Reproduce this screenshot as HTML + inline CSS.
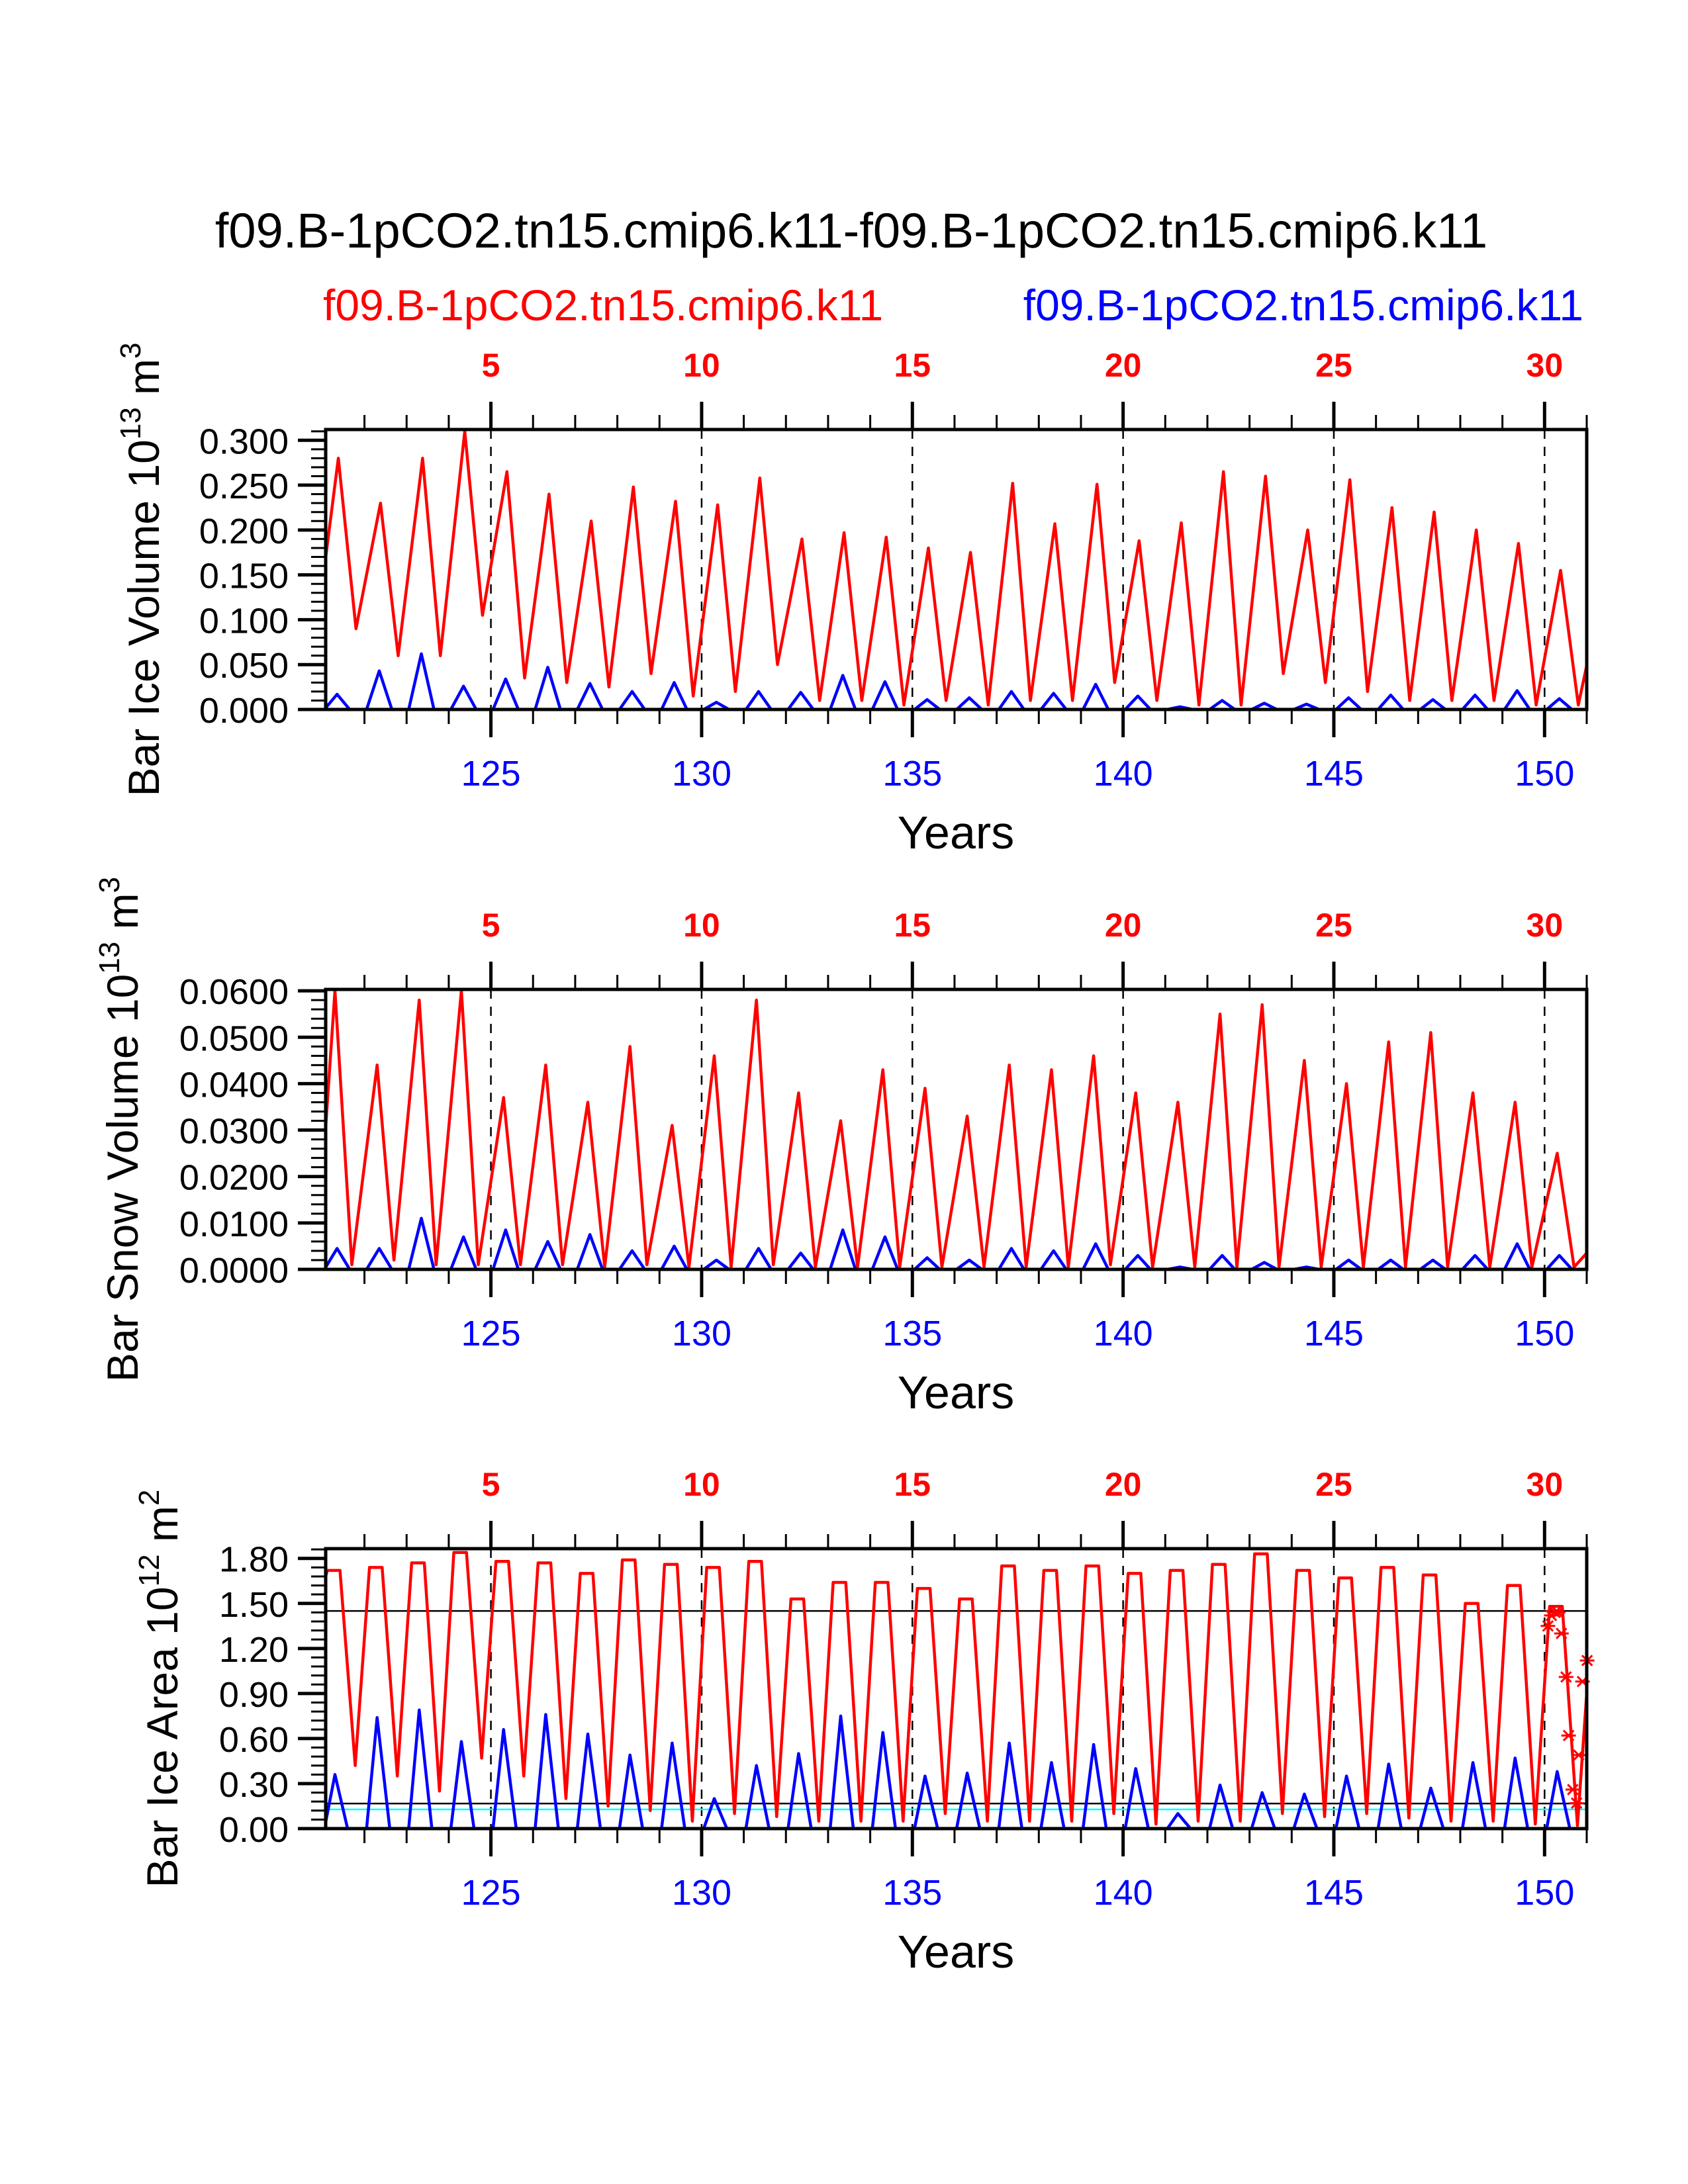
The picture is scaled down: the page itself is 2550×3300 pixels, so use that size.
<!DOCTYPE html>
<html><head><meta charset="utf-8"><style>
html,body{margin:0;padding:0;background:#fff;}
svg{display:block;font-family:"Liberation Sans",sans-serif;}
</style></head>
<body>
<svg id="chart" width="2550" height="3300" viewBox="0 0 2550 3300" xmlns="http://www.w3.org/2000/svg">
<rect width="2550" height="3300" fill="#fff"/>
<text x="1286" y="374" font-size="74" text-anchor="middle">f09.B-1pCO2.tn15.cmip6.k11-f09.B-1pCO2.tn15.cmip6.k11</text>
<text x="488" y="484" font-size="66" fill="#ff0000">f09.B-1pCO2.tn15.cmip6.k11</text>
<text x="2392" y="484" font-size="66" fill="#0000ff" text-anchor="end">f09.B-1pCO2.tn15.cmip6.k11</text>
<g id="panels"></g>
</svg>
<script>
// ---- data ----
const years = [121,122,123,124,125,126,127,128,129,130,131,132,133,134,135,136,137,138,139,140,141,142,143,144,145,146,147,148,149,150];
const topTickLabels = ["5","10","15","20","25","30"];
const bottomTickLabels = ["125","130","135","140","145","150"];

const volRedPeak = [0.28,0.23,0.28,0.31,0.265,0.24,0.21,0.248,0.232,0.228,0.258,0.19,0.197,0.192,0.18,0.175,0.252,0.207,0.251,0.188,0.208,0.265,0.26,0.20,0.256,0.225,0.22,0.20,0.185,0.155];
const volRedTrough = [0.09,0.06,0.06,0.105,0.035,0.03,0.025,0.04,0.015,0.02,0.05,0.01,0.01,0.005,0.01,0.005,0.01,0.01,0.03,0.01,0.005,0.005,0.04,0.03,0.02,0.01,0.01,0.01,0.005,0.005];
const volBluePeak = [0.017,0.043,0.062,0.026,0.034,0.047,0.029,0.02,0.03,0.008,0.02,0.019,0.038,0.031,0.011,0.013,0.02,0.018,0.028,0.015,0.003,0.01,0.007,0.006,0.013,0.016,0.011,0.016,0.021,0.012];

const snowRedPeak = [0.060,0.044,0.058,0.060,0.037,0.044,0.036,0.048,0.031,0.046,0.058,0.038,0.032,0.043,0.039,0.033,0.044,0.043,0.046,0.038,0.036,0.055,0.057,0.045,0.040,0.049,0.051,0.038,0.036,0.025];
const snowRedTrough = [0.001,0.002,0.001,0.001,0.001,0.001,0.0005,0.001,0.0005,0.0005,0.001,0.0005,0.0005,0.0005,0.0005,0.0005,0.0005,0.0005,0.001,0.0005,0.0005,0.0005,0.0005,0.0005,0.0005,0.0005,0.0005,0.0005,0.0005,0.0005];
const snowBluePeak = [0.0045,0.0045,0.011,0.007,0.0085,0.006,0.0075,0.004,0.005,0.002,0.0045,0.0035,0.0085,0.007,0.0025,0.002,0.0045,0.004,0.0055,0.003,0.0005,0.003,0.0015,0.0005,0.002,0.002,0.002,0.003,0.0055,0.003];

const areaRedPeak = [1.72,1.74,1.77,1.84,1.78,1.77,1.70,1.79,1.76,1.74,1.78,1.53,1.64,1.64,1.60,1.53,1.75,1.72,1.75,1.70,1.72,1.76,1.83,1.72,1.67,1.74,1.69,1.50,1.62,1.48];
const areaRedTrough = [0.42,0.35,0.25,0.47,0.35,0.2,0.15,0.12,0.05,0.1,0.08,0.05,0.05,0.05,0.1,0.05,0.05,0.05,0.1,0.03,0.05,0.05,0.1,0.08,0.1,0.07,0.05,0.05,0.03,0.02];
const areaBluePeak = [0.36,0.74,0.79,0.58,0.66,0.76,0.63,0.49,0.57,0.2,0.42,0.5,0.75,0.64,0.35,0.37,0.57,0.44,0.56,0.4,0.1,0.29,0.24,0.23,0.35,0.43,0.27,0.44,0.47,0.38];
const areaRefLines = [1.45,0.167];
const areaCyanLine = [0.128];
const starYears = [150.08,150.16,150.25,150.32,150.40,150.51,150.57,150.81,150.67,150.76,150.90,151.01];
const starValues = [1.35,1.42,1.44,1.44,1.30,1.01,0.62,0.49,0.26,0.17,0.98,1.12];

const volTicks = ["0.000","0.050","0.100","0.150","0.200","0.250","0.300"];
const snowTicks = ["0.0000","0.0100","0.0200","0.0300","0.0400","0.0500","0.0600"];
const areaTicks = ["0.00","0.30","0.60","0.90","1.20","1.50","1.80"];

// ---- layout ----
const NS = "http://www.w3.org/2000/svg";
const X0 = 492, X1 = 2397, XMIN = 121.08, XMAX = 151.0, PH = 423;
const xs = v => X0 + (v - XMIN) / (XMAX - XMIN) * (X1 - X0);
const root = document.getElementById('panels');
function mk(tag, attrs, parent) {
  const e = document.createElementNS(NS, tag);
  for (const k in attrs) e.setAttribute(k, attrs[k]);
  (parent || root).appendChild(e);
  return e;
}
function pathD(pts){return pts.map((p,i)=>(i?'L':'M')+p[0].toFixed(1)+' '+p[1].toFixed(1)).join(' ');}

function panel(cfg) {
  const top = cfg.top, bot = top + PH;
  const ys = v => bot - v / cfg.ymax * PH;
  const g = mk('g', {});
  
  
  const cid = cfg.name + '-clip';
  const cp = mk('clipPath', {id: cid}, g);
  mk('rect', {x: X0, y: top, width: X1 - X0, height: PH}, cp);
  const plot = mk('g', {'clip-path': 'url(#' + cid + ')'}, g);
  for (let yr = 125; yr <= 150; yr += 5) {
    const l = mk('line', {x1: xs(yr), x2: xs(yr), y1: top, y2: bot, stroke: '#000', 'stroke-width': 2.5, 'stroke-dasharray': '14,12'}, plot);
    
    
  }
  if (cfg.refLines) cfg.refLines.forEach(v => {
    const l = mk('line', {x1: X0, x2: X1, y1: ys(v), y2: ys(v), stroke: '#000', 'stroke-width': 2.5}, plot);
    
    
  });
  if (cfg.cyan) cfg.cyan.forEach(v => {
    const l = mk('line', {x1: X0, x2: X1, y1: ys(v), y2: ys(v), stroke: '#00ffff', 'stroke-width': 2.5}, plot);
    
    
  });
  const rp = [[cfg.redStart[0], cfg.redStart[1]]];
  years.forEach((y, i) => {
    cfg.redPeakOff.forEach(o => rp.push([y + o, cfg.redPeak[i]]));
    rp.push([y + cfg.redTroughOff, cfg.redTrough[i]]);
  });
  rp.push([cfg.redEnd[0], cfg.redEnd[1]]);
  const red = mk('path', {d: pathD(rp.map(p => [xs(p[0]), ys(p[1])])), fill: 'none', stroke: '#ff0000', 'stroke-width': 4.5, 'stroke-linejoin': 'round'}, plot);
  
  
  const bp = [];
  years.forEach((y, i) => {
    bp.push([y + cfg.blueOff[0], 0]);
    bp.push([y + cfg.blueOff[1], cfg.bluePeak[i]]);
    bp.push([y + cfg.blueOff[2], 0]);
  });
  const blue = mk('path', {d: pathD(bp.map(p => [xs(p[0]), ys(p[1])])), fill: 'none', stroke: '#0000ff', 'stroke-width': 4.5, 'stroke-linejoin': 'round'}, plot);
  
  
  if (cfg.stars) starYears.forEach((sy, i) => {
    const cx = xs(sy), cy = ys(starValues[i]), r = 11;
    const s = mk('path', {d: `M${cx-r} ${cy}L${cx+r} ${cy}M${cx-r*0.7} ${cy-r*0.7}L${cx+r*0.7} ${cy+r*0.7}M${cx-r*0.7} ${cy+r*0.7}L${cx+r*0.7} ${cy-r*0.7}`, stroke: '#ff0000', 'stroke-width': 3}, g);
    
    
  });
  const fr = mk('rect', {x: X0, y: top, width: X1 - X0, height: PH, fill: 'none', stroke: '#000', 'stroke-width': 5}, g);
  
  
  for (let yr = 122; yr <= 151; yr++) {
    const major = yr % 5 === 0, len = major ? 42 : 22;
    mk('line', {x1: xs(yr), x2: xs(yr), y1: top, y2: top - len, stroke: '#000', 'stroke-width': major ? 5 : 3}, g);
    mk('line', {x1: xs(yr), x2: xs(yr), y1: bot, y2: bot + len, stroke: '#000', 'stroke-width': major ? 5 : 3}, g);
  }
  topTickLabels.forEach((lab, i) => {
    const t = mk('text', {x: xs(125 + 5 * i), y: top - 80, 'font-size': 50, 'font-weight': 'bold', fill: '#ff0000', 'text-anchor': 'middle'}, g);
    t.textContent = lab;
    
    
  });
  bottomTickLabels.forEach((lab, i) => {
    const t = mk('text', {x: xs(125 + 5 * i), y: bot + 115, 'font-size': 54, fill: '#0000ff', 'text-anchor': 'middle'}, g);
    t.textContent = lab;
    
    
  });
  const xt = mk('text', {x: 1444, y: bot + 210, 'font-size': 70, 'text-anchor': 'middle'}, g);
  xt.textContent = 'Years';
  
  
  const n = cfg.ticks.length;
  for (let k = 0; k < n; k++) {
    const v = cfg.step * k;
    mk('line', {x1: X0, x2: X0 - 42, y1: ys(v), y2: ys(v), stroke: '#000', 'stroke-width': 5}, g);
    for (let m = 1; m < 5; m++) {
      const mv = v + cfg.step * m / 5;
      if (mv <= cfg.ymax) mk('line', {x1: X0, x2: X0 - 22, y1: ys(mv), y2: ys(mv), stroke: '#000', 'stroke-width': 3}, g);
    }
    const t = mk('text', {x: X0 - 56, y: ys(v) + 20, 'font-size': 54, 'text-anchor': 'end'}, g);
    t.textContent = cfg.ticks[k];
    
    
  }
  const yt = mk('text', {transform: `translate(${cfg.titleX},${top + PH / 2}) rotate(-90)`, 'font-size': 66, 'text-anchor': 'middle'}, g);
  
  
  yt.innerHTML = cfg.title;
}

panel({name: 'ice-volume-panel', top: 649, ymax: 0.312, step: 0.05, ticks: volTicks, titleX: 240,
  title: 'Bar Ice Volume 10<tspan dy="-28" font-size="44">13</tspan><tspan dy="28"> m</tspan><tspan dy="-28" font-size="44">3</tspan>',
  redPeak: volRedPeak, redTrough: volRedTrough, redPeakOff: [0.38], redTroughOff: 0.8, redStart: [121.0, 0.14], redEnd: [151.05, 0.06],
  bluePeak: volBluePeak, blueOff: [0.05, 0.35, 0.65]});
panel({name: 'snow-volume-panel', top: 1495, ymax: 0.0603, step: 0.01, ticks: snowTicks, titleX: 208,
  title: 'Bar Snow Volume 10<tspan dy="-28" font-size="44">13</tspan><tspan dy="28"> m</tspan><tspan dy="-28" font-size="44">3</tspan>',
  redPeak: snowRedPeak, redTrough: snowRedTrough, redPeakOff: [0.3], redTroughOff: 0.7, redStart: [121.0, 0.02], redEnd: [151.05, 0.004],
  bluePeak: snowBluePeak, blueOff: [0.05, 0.35, 0.65]});
panel({name: 'ice-area-panel', top: 2340, ymax: 1.865, step: 0.3, ticks: areaTicks, titleX: 268,
  title: 'Bar Ice Area 10<tspan dy="-28" font-size="44">12</tspan><tspan dy="28"> m</tspan><tspan dy="-28" font-size="44">2</tspan>',
  redPeak: areaRedPeak, redTrough: areaRedTrough, redPeakOff: [0.12, 0.42], redTroughOff: 0.78, redStart: [121.0, 1.6], redEnd: [151.05, 1.1],
  bluePeak: areaBluePeak, blueOff: [0.05, 0.3, 0.6], refLines: areaRefLines, cyan: areaCyanLine, stars: true});
</script>
</body></html>
